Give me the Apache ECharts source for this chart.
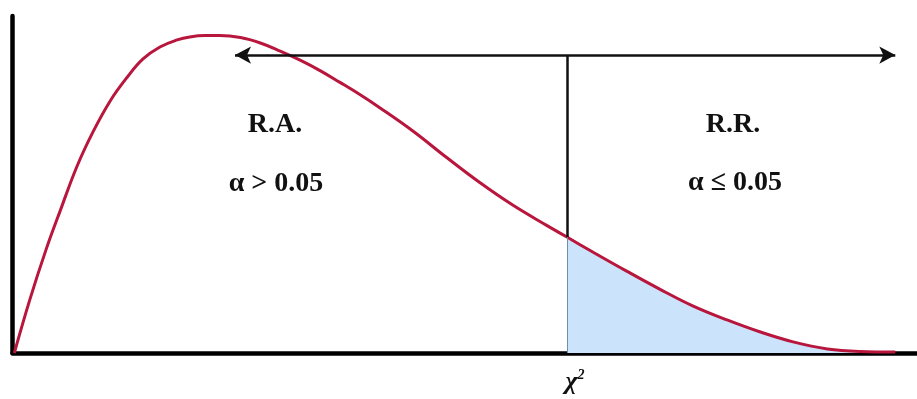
<!DOCTYPE html>
<html>
<head>
<meta charset="utf-8">
<script src="https://cdn.jsdelivr.net/npm/echarts@6/dist/echarts.min.js"></script>
<style>
  html, body { margin: 0; padding: 0; background: #fff; }
  #chart { width: 917px; height: 399px; }
</style>
</head>
<body>
<div id="chart"></div>
<script>
// curve (x 0..100, density 0..100)
var curveX = [0.2, 1.9, 3.7, 5.3, 7.1, 8.9, 10.8, 12.7, 14.4, 16.3, 18.2, 19.6, 21.3, 22.9, 25.2, 27.4, 29.6, 31.8, 34.0, 36.2, 38.4, 40.6, 44.3, 48.0, 51.7, 55.3, 59.1, 61.3, 64.2, 67.9, 71.6, 75.2, 79.0, 82.6, 86.3, 90.1, 93.7, 97.6];
var curveY = [0, 15.7, 30.6, 42.4, 55.2, 65.6, 74.8, 81.9, 87.2, 90.8, 92.9, 93.8, 94.2, 94.2, 93.6, 92.0, 89.6, 86.9, 83.8, 80.3, 76.7, 72.8, 65.8, 58.0, 50.5, 43.9, 37.8, 34.4, 29.9, 24.3, 18.9, 14.0, 9.8, 6.3, 3.3, 1.2, 0.45, 0.3];
var critX = 61.3;          // χ² critical value
var critY = 34.4;          // density at the critical value
var arrowY = 88.4;         // height of the double arrow
var arrowFrom = 24.6, arrowTo = 97.6;

var curve = curveX.map(function (x, i) { return [x, curveY[i]]; });
var tail = curve.filter(function (p) { return p[0] >= critX; });

var myChart = echarts.init(document.getElementById('chart'));
var serif = '"Liberation Serif", "Times New Roman", serif';

var option = {
    animation: false,
    grid: { left: 12.5, right: 0, top: 16, bottom: 46 },
    xAxis: {
        type: 'value', min: 0, max: 100,
        axisLine: { show: true, onZero: false, lineStyle: { color: '#000', width: 4.5 } },
        axisTick: { show: false }, axisLabel: { show: false }, splitLine: { show: false }
    },
    yAxis: {
        type: 'value', min: 0, max: 100,
        axisLine: { show: true, onZero: false, lineStyle: { color: '#000', width: 4.5 } },
        axisTick: { show: false }, axisLabel: { show: false }, splitLine: { show: false }
    },
    series: [{
        // shaded tail (alpha)
        type: 'line',
        data: tail,
        symbol: 'none',
        smooth: 0.4,
        lineStyle: { width: 0 },
        areaStyle: { color: '#cce4fb', opacity: 1 },
        z: 1,
        markLine: {
            silent: true,
            symbol: 'none',
            label: { show: false },
            lineStyle: { color: '#6e8db0', width: 1, type: 'solid' },
            data: [[{ coord: [critX, 0] }, { coord: [critX, critY] }]]
        }
    }, {
        type: 'line',
        data: curve,
        symbol: 'none',
        smooth: 0.4,
        lineStyle: { color: '#b8163c', width: 3 },
        z: 3,
        markLine: {
            silent: true,
            label: { show: false },
            lineStyle: { color: '#111', width: 2.5, type: 'solid' },
            data: [
                [{ coord: [arrowFrom, arrowY], symbol: 'arrow', symbolSize: [13, 16] },
                 { coord: [arrowTo, arrowY], symbol: 'arrow', symbolSize: [13, 16] }],
                [{ coord: [critX, critY], symbol: 'none' }, { coord: [critX, arrowY], symbol: 'none' }]
            ]
        }
    }],
    graphic: [
        { type: 'text', x: 275, y: 125, style: { text: 'R.A.', font: 'bold 28px ' + serif, fill: '#111', textAlign: 'center', textVerticalAlign: 'middle' } },
        { type: 'text', x: 276, y: 184, style: { text: 'α > 0.05', font: 'bold 28px ' + serif, fill: '#111', textAlign: 'center', textVerticalAlign: 'middle' } },
        { type: 'text', x: 733, y: 125, style: { text: 'R.R.', font: 'bold 28px ' + serif, fill: '#111', textAlign: 'center', textVerticalAlign: 'middle' } },
        { type: 'text', x: 735, y: 183, style: { text: 'α ≤ 0.05', font: 'bold 28px ' + serif, fill: '#111', textAlign: 'center', textVerticalAlign: 'middle' } },
        { type: 'text', x: 615, y: 317, style: { text: 'α', font: 'italic bold 40px ' + serif, fill: '#d8101c', textAlign: 'center', textVerticalAlign: 'middle' } },
        { type: 'text', x: 575, y: 382, style: {
            text: '{a|χ}{b|2}', textAlign: 'center', textVerticalAlign: 'middle',
            rich: {
                a: { font: 'italic bold 26px ' + serif, fill: '#111' },
                b: { font: 'italic bold 14px ' + serif, fill: '#111', verticalAlign: 'top', padding: [0, 0, 14, 0] }
            }
        } }
    ]
};

myChart.setOption(option);
</script>
</body>
</html>
